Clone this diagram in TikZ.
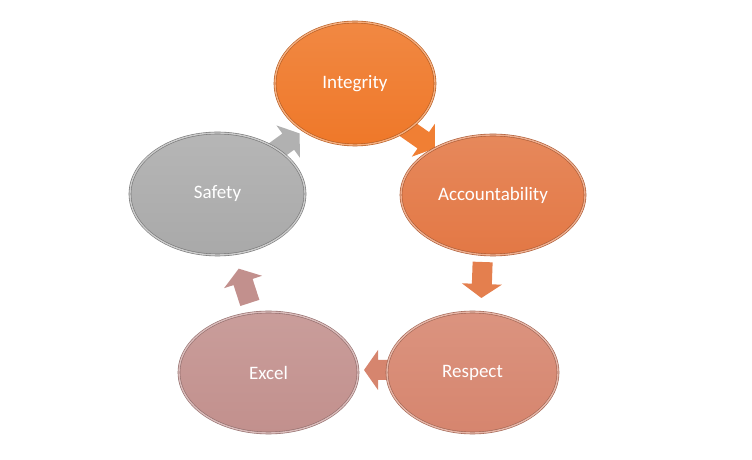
\documentclass[tikz,border=0pt]{standalone}
\usepackage{fontspec}
\setmainfont{Carlito}
\usepackage{tikz}
\usetikzlibrary{shapes.geometric}

\definecolor{intc}{HTML}{EF7829}
\definecolor{accc}{HTML}{E37845}
\definecolor{resc}{HTML}{D6856E}
\definecolor{excc}{HTML}{C2908D}
\definecolor{safc}{HTML}{A9A9A9}

\begin{document}
\begin{tikzpicture}[x=1pt,y=1pt,
	oval/.style={ellipse, inner sep=0pt, line width=0.6pt, double distance=1.4pt,
		text=white, font=\fontsize{19}{22}\selectfont},
	blockarr/.pic={\fill[#1] (-18,-10) -- (4,-10) -- (4,-20) -- (18,0)
		-- (4,20) -- (4,10) -- (-18,10) -- cycle;}]
	
	\useasboundingbox (0,0) rectangle (752,460);
	
	\coordinate (ia) at (420,322);
	\coordinate (ar) at (482,180);
	\coordinate (re) at (382,90);
	\coordinate (es) at (244.3,174.2);
	\coordinate (si) at (285,316);
	
	\pic[rotate=-35] at (ia) {blockarr=intc!95!white};
	\pic[rotate=-92] at (ar) {blockarr=accc!95!white};
	\pic[rotate=180] at (re) {blockarr=resc};
	\pic[rotate=108] at (es) {blockarr=excc};
	\pic[rotate=36] at (si) {blockarr=safc!90!white};
	
	\node[oval, minimum width=160, minimum height=123, top color=intc!88!white,
		bottom color=intc, draw=intc!75!black, double=intc!60!white] (int) at (355,376.5) {Integrity};
	\node[oval, minimum width=184, minimum height=120, top color=accc!88!white,
		bottom color=accc, draw=accc!75!black, double=accc!60!white] (acc) at (493,265) {Accountability};
	\node[oval, minimum width=171, minimum height=121, top color=resc!88!white,
		bottom color=resc, draw=resc!75!black, double=resc!60!white] (res) at (472.5,87.5) {Respect};
	\node[oval, minimum width=179, minimum height=121, top color=excc!88!white,
		bottom color=excc, draw=excc!75!black, double=excc!60!white] (exc) at (268.5,87.5) {Excel};
	\node[oval, minimum width=175, minimum height=122, top color=safc!85!white,
		bottom color=safc, draw=safc!70!black, double=safc!60!white] (saf) at (217.5,266) {Safety};
	
\end{tikzpicture}
\end{document}
